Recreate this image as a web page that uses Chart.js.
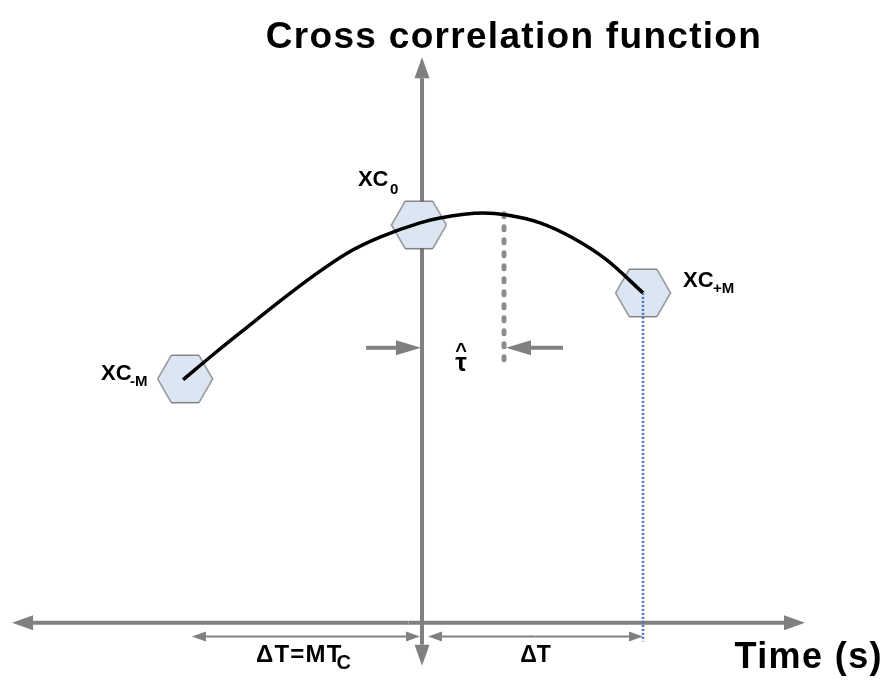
<!DOCTYPE html>
<html>
<head>
<meta charset="utf-8">
<script src="https://cdn.jsdelivr.net/npm/chart.js@4.4.1/dist/chart.umd.min.js"></script>
<style>
  html, body { margin: 0; padding: 0; background: #fff; }
  #wrap { width: 889px; height: 680px; }
</style>
</head>
<body>
<div id="wrap"><canvas id="myChart"></canvas></div>
<script>
// lag in units of dT (vertical axis at 0), correlation normalised to its peak
const lagCurve = [-1.081, -0.946, -0.792, -0.643, -0.493, -0.339, -0.190, -0.009, 0.081, 0.276, 0.385, 0.534, 0.683, 0.837, 1.0];
const xcCurve = [0.593, 0.654, 0.721, 0.785, 0.846, 0.902, 0.941, 0.976, 0.988, 1.0, 0.995, 0.976, 0.939, 0.885, 0.805];

const lagSamples = [-1.072, -0.014, 1.0];
const xcSamples = [0.595, 0.971, 0.805];
const sampleNames = ["XC", "XC", "XC"];
const sampleSubs = ["-M", "0", "+M"];

const tauHat = 0.371;
const tauSpan = [0.998, 0.637];
const tauArrowY = 0.671;
const tauArrowLag = [[-0.253, -0.005], [0.638, 0.38]];

const timeRange = [-1.855, 1.733];
const xcRange = [-0.105, 1.38];
const spanLabels = ["ΔT=MT", "ΔT"];
const spanSubs = ["C", ""];
const spanLag = [[-1.041, -0.009], [0.027, 1.0]];
const spanY = -0.034;

const titleText = "Cross correlation function";
const xTitle = "Time (s)";

const FONT = '"Liberation Sans", Arial, sans-serif';
const GREY = "#808080";

function hexImage(r) {
  const c = document.createElement("canvas");
  const w = Math.ceil(2 * r + 2), h = Math.ceil(Math.sqrt(3) * r + 2);
  c.width = w; c.height = h;
  const g = c.getContext("2d");
  g.beginPath();
  for (let i = 0; i < 6; i++) {
    const a = Math.PI / 3 * i;
    const x = w / 2 + r * Math.cos(a), y = h / 2 + r * Math.sin(a);
    if (i) g.lineTo(x, y); else g.moveTo(x, y);
  }
  g.closePath();
  g.fillStyle = "#dce6f2";
  g.fill();
  g.strokeStyle = "#4d4d4d";
  g.lineWidth = 1;
  g.stroke();
  return c;
}

function arrow(ctx, x1, y1, x2, y2, len, half, lw) {
  const a = Math.atan2(y2 - y1, x2 - x1);
  const bx = x2 - len * Math.cos(a), by = y2 - len * Math.sin(a);
  ctx.lineWidth = lw;
  ctx.beginPath();
  ctx.moveTo(x1, y1);
  ctx.lineTo(bx, by);
  ctx.stroke();
  ctx.beginPath();
  ctx.moveTo(x2, y2);
  ctx.lineTo(bx + half * Math.sin(a), by - half * Math.cos(a));
  ctx.lineTo(bx - half * Math.sin(a), by + half * Math.cos(a));
  ctx.closePath();
  ctx.fill();
}

const diagram = {
  id: "diagram",
  beforeDatasetsDraw(chart) {
    const { ctx, scales: { x, y } } = chart;
    ctx.save();
    ctx.strokeStyle = GREY;
    ctx.fillStyle = GREY;
    const y0 = y.getPixelForValue(0), x0 = x.getPixelForValue(0);
    const xl = x.getPixelForValue(timeRange[0]), xr = x.getPixelForValue(timeRange[1]);
    const mid = (xl + xr) / 2;
    arrow(ctx, mid, y0, xl, y0, 21, 7.5, 4);
    arrow(ctx, mid, y0, xr, y0, 21, 7.5, 4);
    const yt = y.getPixelForValue(xcRange[1]), yb = y.getPixelForValue(xcRange[0]);
    arrow(ctx, x0, y0, x0, yt, 21, 7.5, 4);
    arrow(ctx, x0, y0, x0, yb, 21, 7.5, 4);
    ctx.restore();
  },
  afterDatasetsDraw(chart) {
    const { ctx, scales: { x, y } } = chart;
    ctx.save();
    ctx.strokeStyle = GREY;
    ctx.fillStyle = GREY;

    // dT spans under the axis
    const ys = y.getPixelForValue(spanY);
    spanLag.forEach(([a, b]) => {
      const pa = x.getPixelForValue(a), pb = x.getPixelForValue(b), m = (pa + pb) / 2;
      arrow(ctx, m, ys, pa, ys, 14, 5, 2);
      arrow(ctx, m, ys, pb, ys, 14, 5, 2);
    });

    // tau-hat arrows
    const ya = y.getPixelForValue(tauArrowY);
    tauArrowLag.forEach(([a, b]) => {
      arrow(ctx, x.getPixelForValue(a), ya, x.getPixelForValue(b), ya, 25, 7.5, 4);
    });

    ctx.fillStyle = "#000";
    ctx.textBaseline = "alphabetic";

    // title and axis title
    ctx.textAlign = "center";
    ctx.font = "bold 37px " + FONT;
    ctx.letterSpacing = "1.3px";
    ctx.fillText(titleText, 514, 48);
    ctx.textAlign = "right";
    ctx.font = "bold 36px " + FONT;
    ctx.letterSpacing = "1.4px";
    ctx.fillText(xTitle, 883, 668);
    ctx.letterSpacing = "0px";

    // sample labels
    const offs = [[-84, 1, -55, 7], [-61, -39, -29, -31], [40, -6, 70, 0]];
    ctx.textAlign = "left";
    lagSamples.forEach((v, i) => {
      const px = x.getPixelForValue(v), py = y.getPixelForValue(xcSamples[i]);
      const o = offs[i];
      ctx.font = "bold 22px " + FONT;
      ctx.fillText(sampleNames[i], px + o[0], py + o[1]);
      ctx.font = "bold 15px " + FONT;
      ctx.fillText(sampleSubs[i], px + o[2], py + o[3]);
    });

    // tau hat
    const tx = (x.getPixelForValue(0) + x.getPixelForValue(tauHat)) / 2 - 2;
    ctx.textAlign = "center";
    ctx.font = "bold 26px " + FONT;
    ctx.fillText("τ", tx, 371);
    ctx.font = "bold 20px " + FONT;
    ctx.fillText("^", tx, 357);

    // span labels
    spanLabels.forEach((t, i) => {
      const m = (x.getPixelForValue(spanLag[i][0]) + x.getPixelForValue(spanLag[i][1])) / 2;
      ctx.font = (spanSubs[i] ? "bold 24px " : "bold 23px ") + FONT;
      ctx.textAlign = "left";
      ctx.letterSpacing = spanSubs[i] ? "1.2px" : "0px";
      const w = ctx.measureText(t).width;
      const left = spanSubs[i] ? 256 : m - w / 2;
      ctx.fillText(t, left, 662);
      ctx.letterSpacing = "0px";
      if (spanSubs[i]) {
        ctx.font = "bold 20px " + FONT;
        ctx.fillText(spanSubs[i], left + w - 6, 669);
      }
    });
    ctx.restore();
  }
};

const hex = hexImage(27.5);

new Chart(document.getElementById("myChart"), {
  type: "scatter",
  data: {
    datasets: [
      {
        // blue projection of XC+M onto the time axis
        data: [{ x: lagSamples[2], y: xcSamples[2] }, { x: lagSamples[2], y: spanY - 0.012 }],
        showLine: true,
        borderColor: "#4472c4",
        borderWidth: 2.5,
        borderDash: [2, 2],
        pointRadius: 0,
        order: 0,
      },
      {
        data: lagCurve.map((v, i) => ({ x: v, y: xcCurve[i] })),
        showLine: true,
        borderColor: "#000",
        borderWidth: 3.5,
        cubicInterpolationMode: "monotone",
        pointRadius: 0,
        order: 1,
      },
      {
        data: lagSamples.map((v, i) => ({ x: v, y: xcSamples[i] })),
        pointStyle: hex,
        pointRadius: 28,
        order: 2,
      },
      {
        // estimated delay of the peak
        data: [{ x: tauHat, y: tauSpan[0] }, { x: tauHat, y: tauSpan[1] }],
        showLine: true,
        borderColor: "#8c8c8c",
        borderWidth: 5,
        borderDash: [3, 10],
        borderCapStyle: "round",
        pointRadius: 0,
        order: 3,
      },
    ],
  },
  options: {
    responsive: true,
    maintainAspectRatio: false,
    animation: false,
    events: [],
    layout: { padding: 0, autoPadding: false },
    plugins: { legend: { display: false }, tooltip: { enabled: false } },
    scales: {
      x: { type: "linear", min: -1.9095, max: 2.113, display: false },
      y: { type: "linear", min: -0.14, max: 1.52, display: false },
    },
  },
  plugins: [diagram],
});
</script>
</body>
</html>
